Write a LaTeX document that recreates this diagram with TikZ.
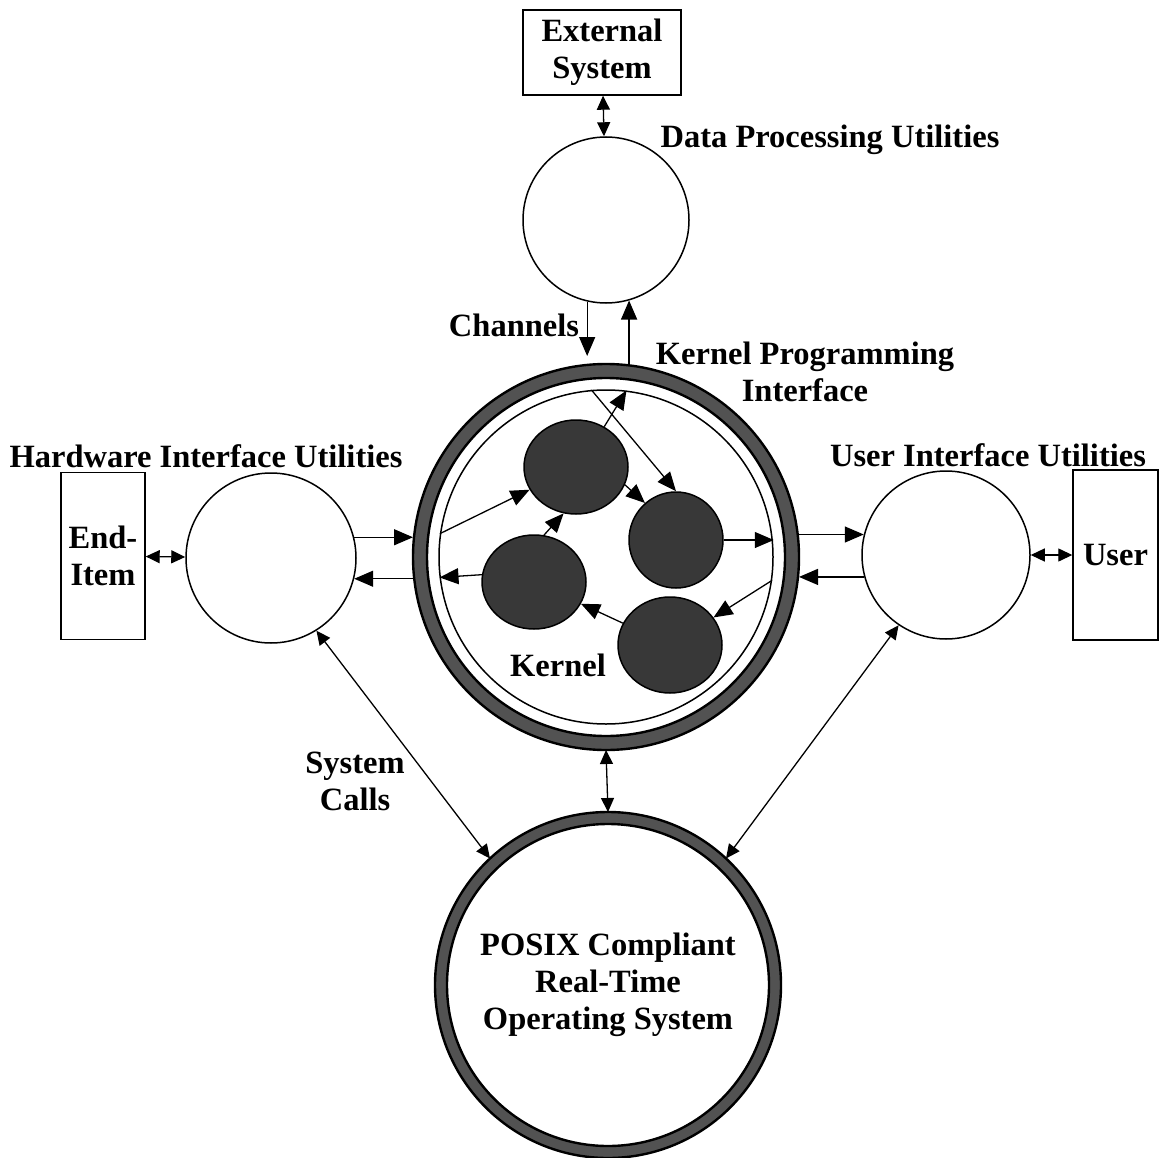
\documentclass[tikz,border=0pt]{standalone}
\usepackage{fontspec}
\setmainfont{Liberation Serif}
\usetikzlibrary{shapes.geometric,arrows.meta,calc}
\begin{document}
\begin{tikzpicture}[x=1pt,y=-1pt,
  every node/.style={font=\fontsize{32.5}{37}\selectfont\bfseries, inner sep=0pt},
  lbl/.style={align=center},
  util/.style={circle, draw=black, line width=1.5pt, minimum size=#1},
  boxn/.style={rectangle, draw=black, line width=1.4pt, minimum width=#1, align=center},
  blob/.style={ellipse, draw=black, line width=1.5pt, fill=black!78},
  arr/.style={-{Triangle[length=19pt,width=16pt]}, line width=1.3pt},
  darr/.style={{Triangle[length=14pt,width=13pt]}-{Triangle[length=14pt,width=13pt]}, line width=1.3pt},
  ringc/.style={black, line width=2.4pt}
]
\useasboundingbox (0,0) rectangle (1169,1158);
\fill[white] (0,0) rectangle (1169,1158);

% kernel rings
\node[circle, draw=black!68, line width=14pt, minimum size=372pt] (kern) at (606,557) {};
\draw[ringc] (kern.center) circle (193pt);
\draw[ringc] (kern.center) circle (179pt);
\node[util=334pt] (kin) at (606,557) {};

% POSIX ring
\node[circle, draw=black!68, line width=12pt, minimum size=334pt, align=center] (posix) at (608,985) {POSIX Compliant\\Real-Time\\Operating System};
\draw[ringc] (posix.center) circle (173pt);
\draw[ringc] (posix.center) circle (161pt);

% utility circles
\node[util=166pt] (dp) at (606,220) {};
\node[util=170pt] (hw) at (271,558) {};
\node[util=168pt] (ui) at (946,555) {};

% boxes
\node[boxn=158pt, minimum height=85pt] (ext) at (602,52.5) {External\\System};
\node[boxn=84pt, minimum height=167pt] (ei) at (103,556) {End-\\Item};
\node[boxn=85pt, minimum height=170pt] (usr) at (1115.5,555) {User};

% blobs
\node[blob, minimum width=104pt, minimum height=94pt] (b1) at (576,467) {};
\node[blob, minimum width=94pt, minimum height=96pt] (b2) at (676,540) {};
\node[blob, minimum width=104pt, minimum height=94pt] (b3) at (534,582) {};
\node[blob, minimum width=104pt, minimum height=96pt] (b4) at (670,645) {};

% labels
\node[lbl] (ldp) at (830,140) {Data Processing Utilities};
\node[lbl] (lch) at (514,325) {Channels};
\node[lbl] (lkpi) at (805,372) {Kernel Programming\\Interface};
\node[lbl] (lhw) at (206,456) {Hardware Interface Utilities};
\node[lbl] (lui) at (988,455) {User Interface Utilities};
\node[lbl] (lk) at (558,665) {Kernel};
\node[lbl] (lsc) at (355,781) {System\\Calls};

% kernel internal arrows
\draw[arr] (kin.172) -- (b1);
\draw[arr] (b1.55) -- (kin.83);
\draw[arr] (kin.95) -- (b2.north);
\draw[arr] (b1.-20) -- (b2.130);
\draw[arr] (b3.78) -- (b1.-105);
\draw[arr] (b3.172) -- (kin.187);
\draw[arr] (b2.east) -- (b2.east -| kin.east);
\draw[arr] (kin.-8) -- (b4);
\draw[arr] (b4) -- (b3);

% channels
\draw[arr, shorten >=8pt] (dp.-103) -- (dp.-103 |- kern.north);
\draw[arr] (kern.north -| dp.-74) -- (dp.-74);

% hw and ui arrows
\draw[arr] (hw.14) -- (kern.west |- hw.14);
\draw[arr] (kern.west |- hw.-14) -- (hw.-14);
\draw[arr] (kern.east |- ui.166) -- (ui.166);
\draw[arr] (ui.195) -- (kern.east |- ui.195);

% double arrows
\draw[darr] (ext) -- (dp);
\draw[darr] (ei) -- (hw);
\draw[darr] (ui) -- (usr);
\draw[darr] (kern.south) -- (posix.north);
\draw[darr] (hw.-58) -- (posix.133);
\draw[darr] (ui.236) -- (posix.47);
\end{tikzpicture}
\end{document}
